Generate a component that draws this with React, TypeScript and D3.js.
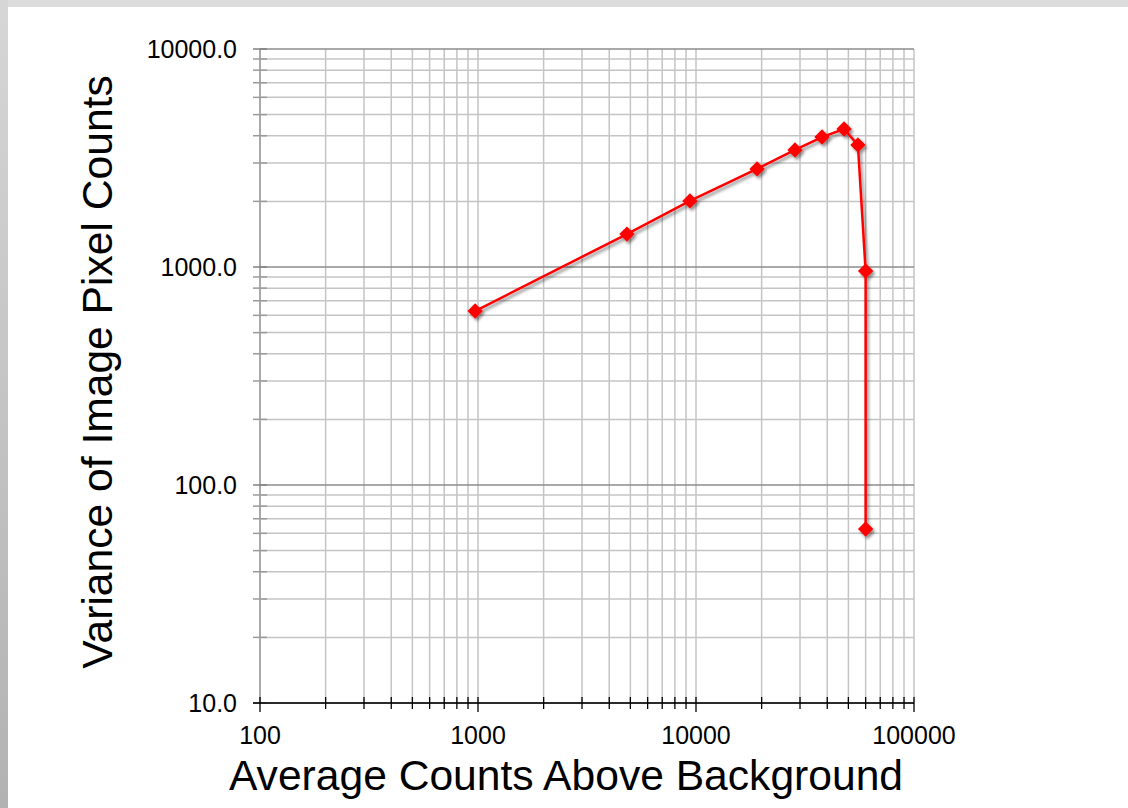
import React from "react";
import * as d3 from "d3";

const xValues = [970, 4820, 9380, 19050, 28450, 37840, 47750, 55300, 60000, 60000];
const yValues = [628, 1416, 2010, 2818, 3442, 3946, 4297, 3630, 959, 62.8];
const xTickLabels = ["100", "1000", "10000", "100000"];
const xTickValues = [100, 1000, 10000, 100000];
const yTickLabels = ["10.0", "100.0", "1000.0", "10000.0"];
const yTickValues = [10, 100, 1000, 10000];
const xTitle = "Average Counts Above Background";
const yTitle = "Variance of Image Pixel Counts";

const W = 1128;
const H = 808;
const FONT = "'Liberation Sans', Arial, Helvetica, sans-serif";

function minorValues(lo: number, hi: number): number[] {
  const out: number[] = [];
  for (let p = lo; p < hi; p *= 10) {
    for (let m = 1; m <= 9; m++) out.push(p * m);
  }
  out.push(hi);
  return out;
}

export default function App() {
  const x = d3.scaleLog().domain([100, 100000]).range([260, 914]);
  const y = d3.scaleLog().domain([10, 10000]).range([703, 49]);
  const xGrid = minorValues(100, 100000);
  const yGrid = minorValues(10, 10000);
  const isMajor = (v: number) => Math.abs(Math.log10(v) - Math.round(Math.log10(v))) < 1e-9;
  const pts = xValues.map((v, i) => [x(v), y(yValues[i])] as [number, number]);
  const line = d3.line()(pts) || "";
  const diamond = d3.symbol().type(d3.symbolDiamond2).size(150)() || "";

  return (
    <svg
      width={W}
      height={H}
      style={{ position: "fixed", left: 0, top: 0, background: "#fff" }}
    >
      <defs>
        <linearGradient id="leftBand" x1="0" y1="0" x2="0" y2="1">
          <stop offset="0" stopColor="#d6d6d6" />
          <stop offset="1" stopColor="#b2b2b2" />
        </linearGradient>
        <filter id="shadow" x="-50%" y="-50%" width="200%" height="200%">
          <feDropShadow dx="2" dy="2.5" stdDeviation="1.5" floodColor="#000" floodOpacity="0.45" />
        </filter>
      </defs>
      <rect x={0} y={0} width={W} height={H} fill="#fff" />
      <rect x={0} y={0} width={W} height={7} fill="#dcdcdc" />
      <rect x={0} y={0} width={8} height={H} fill="url(#leftBand)" />

      {/* grid lines vertical */}
      {xGrid.map((v, i) => (
        <line
          key={"gx" + i}
          x1={x(v)}
          x2={x(v)}
          y1={49}
          y2={703}
          stroke={v === 100 ? "#8c8c8c" : "#c4c4c4"}
          strokeWidth={1.5}
        />
      ))}
      {/* grid lines horizontal */}
      {yGrid.map((v, i) => (
        <line
          key={"gy" + i}
          x1={260}
          x2={914}
          y1={y(v)}
          y2={y(v)}
          stroke={isMajor(v) ? "#8c8c8c" : "#c4c4c4"}
          strokeWidth={1.5}
        />
      ))}
      {/* y ticks */}
      {yGrid.map((v, i) => (
        <line
          key={"ty" + i}
          x1={253}
          x2={267}
          y1={y(v)}
          y2={y(v)}
          stroke={isMajor(v) ? "#808080" : "#9a9a9a"}
          strokeWidth={1.5}
        />
      ))}
      {/* x axis line */}
      <line x1={253} x2={914} y1={703} y2={703} stroke="#000" strokeWidth={1.5} />
      {xGrid.map((v, i) => (
        <line
          key={"tx" + i}
          x1={x(v)}
          x2={x(v)}
          y1={697}
          y2={isMajor(v) ? 712 : 709}
          stroke="#000"
          strokeWidth={1.3}
        />
      ))}

      {/* tick labels */}
      {yTickValues.map((v, i) => (
        <text
          key={"ly" + i}
          x={237}
          y={y(v)}
          dy="0.35em"
          textAnchor="end"
          fontFamily={FONT}
          fontSize={25}
          fill="#000"
        >
          {yTickLabels[i]}
        </text>
      ))}
      {xTickValues.map((v, i) => (
        <text
          key={"lx" + i}
          x={x(v)}
          y={744}
          textAnchor="middle"
          fontFamily={FONT}
          fontSize={25}
          fill="#000"
        >
          {xTickLabels[i]}
        </text>
      ))}

      {/* titles */}
      <text x={566} y={790} textAnchor="middle" fontFamily={FONT} fontSize={42.6} fill="#000">
        {xTitle}
      </text>
      <text
        transform={`translate(112, 372) rotate(-90)`}
        textAnchor="middle"
        fontFamily={FONT}
        fontSize={42.6}
        fill="#000"
      >
        {yTitle}
      </text>

      {/* series */}
      <g filter="url(#shadow)">
        <path d={line} fill="none" stroke="#ff0000" strokeWidth={2.5} />
        {pts.map((p, i) => (
          <path key={"m" + i} d={diamond} transform={`translate(${p[0]},${p[1]})`} fill="#ff0000" />
        ))}
      </g>
    </svg>
  );
}
